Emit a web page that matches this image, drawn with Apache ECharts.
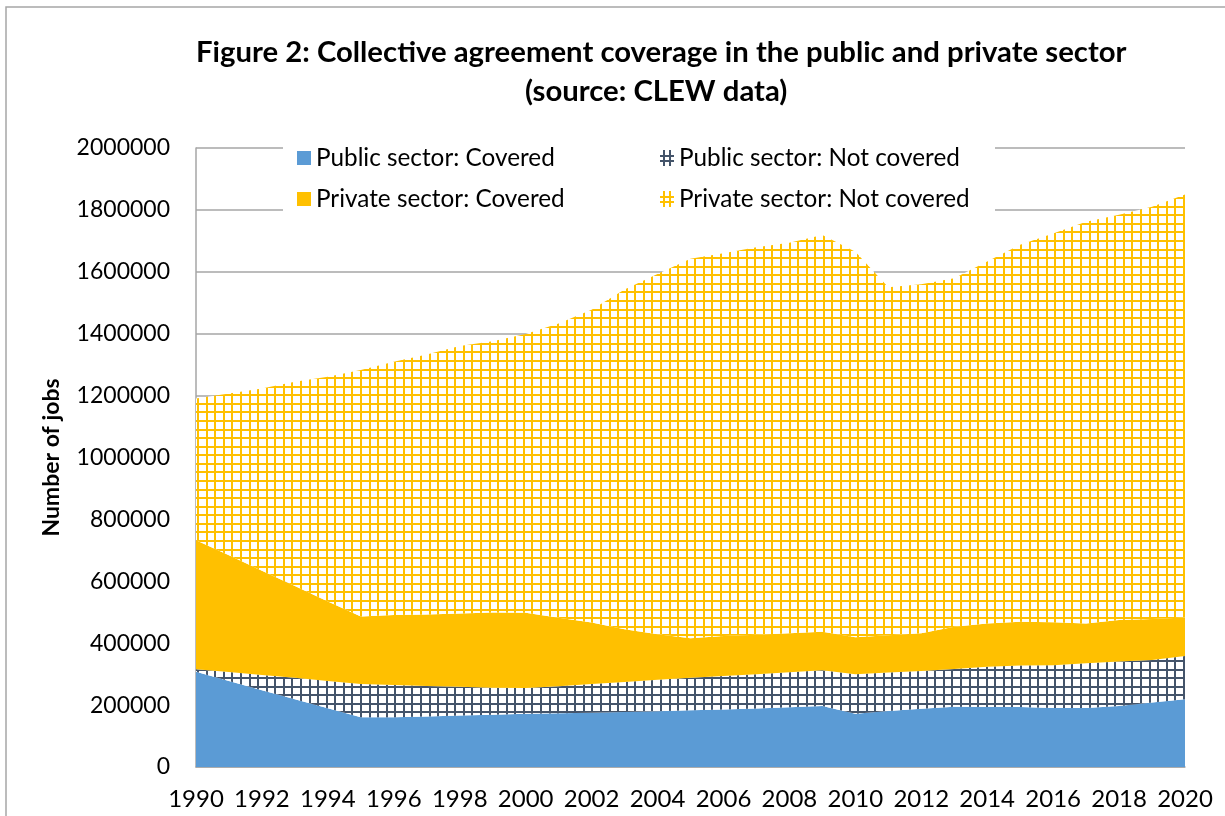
<!DOCTYPE html>
<html>
<head>
<meta charset="utf-8">
<script src="https://cdn.jsdelivr.net/npm/echarts@6/dist/echarts.min.js"></script>
<style>
html,body{margin:0;padding:0;background:#fff;}
#chart{width:1225px;height:816px;}
</style>
</head>
<body>
<div id="chart"></div>
<script>
const years = [];
for (let y = 1990; y <= 2020; y++) years.push(String(y));

const publicCovered = [308000,278000,248000,219000,190000,161000,161000,163000,166000,169000,172000,174000,175000,178000,180000,183000,186000,189000,193000,197000,172000,181000,188000,195000,194000,194000,191000,191000,197000,208000,219000];
const publicNotCovered = [8000,29000,49000,69000,88000,107000,104000,99000,93000,87000,83000,87000,93000,97000,102000,105000,108000,111000,113000,116000,128000,124000,122000,122000,130000,134000,138000,144000,144000,138000,140000];
const privateCovered = [417000,377000,337000,297000,257000,218000,226000,231000,237000,243000,243000,221000,199000,170000,147000,128000,129000,127000,126000,124000,119000,121000,122000,136000,140000,141000,139000,129000,134000,132000,124000];
const privateNotCovered = [458000,523000,589000,660000,726000,797000,818000,840000,864000,877000,901000,951000,1010000,1098000,1164000,1226000,1237000,1252000,1262000,1282000,1246000,1124000,1128000,1126000,1169000,1218000,1256000,1298000,1309000,1332000,1367000];

const seriesNames = ['Public sector: Covered','Public sector: Not covered','Private sector: Covered','Private sector: Not covered'];
const titleLines = ['Figure 2: Collective agreement coverage in the public and private sector', '(source: CLEW data)'];
const yTicks = [0,200000,400000,600000,800000,1000000,1200000,1400000,1600000,1800000,2000000];

const BLUE = '#5B9BD5', NAVY = '#44546A', GOLD = '#FFC000';

function gridPattern(color) {
  const c = document.createElement('canvas');
  c.width = 60; c.height = 60;
  const g = c.getContext('2d');
  g.fillStyle = '#fff';
  g.fillRect(0,0,60,60);
  g.fillStyle = color;
  for (let i = 0; i < 7; i++) {
    const p = Math.round(i * 60 / 7);
    g.fillRect(p, 0, 2, 60);
    g.fillRect(0, p, 60, 2);
  }
  return {image: c, repeat: 'repeat'};
}
function hashIcon(color) {
  const c = document.createElement('canvas');
  c.width = 14; c.height = 16;
  const g = c.getContext('2d');
  g.fillStyle = color;
  g.fillRect(3,0,2,16); g.fillRect(9,0,2,16);
  g.fillRect(0,5,14,2); g.fillRect(0,10,14,2);
  return 'image://' + c.toDataURL();
}

const navyPat = gridPattern(NAVY);
const goldPat = gridPattern(GOLD);
const fills = [BLUE, navyPat, GOLD, goldPat];
const dataArr = [publicCovered, publicNotCovered, privateCovered, privateNotCovered];

const FONT = 'Lato';
const chart = echarts.init(document.getElementById('chart'), null, {renderer:'canvas'});

const legendText = {fontFamily: FONT, fontSize: 24.3, color: '#000', lineHeight: 24};
const titleStyle = {fontFamily: FONT, fontWeight: 'bold', fontSize: 29.3, color: '#000'};
chart.setOption({
  animation: false,
  backgroundColor: '#fff',
  title: [
    {text: titleLines[0], left: 191, top: 33, textStyle: titleStyle},
    {text: titleLines[1], left: 520, top: 72, textStyle: titleStyle}
  ],
  grid: {left: 196, right: 40, top: 148, bottom: 49},
  graphic: [
    {type: 'rect', z: 3, shape: {x: 283, y: 138, width: 712, height: 82}, style: {fill: '#fff'}},
    {type: 'rect', z: 10, shape: {x: 6, y: 7, width: 1400, height: 1000}, style: {fill: 'none', stroke: '#a6a6a6', lineWidth: 1.5}}
  ],
  legend: [
    {
      orient: 'vertical', left: 292, top: 141, itemGap: 17, z: 5,
      itemWidth: 14, itemHeight: 14, textStyle: legendText,
      data: [
        {name: seriesNames[0], icon: 'rect', itemStyle: {color: BLUE}},
        {name: seriesNames[2], icon: 'rect', itemStyle: {color: GOLD}}
      ]
    },
    {
      orient: 'vertical', left: 655, top: 141, itemGap: 17, z: 5,
      itemWidth: 14, itemHeight: 16, textStyle: legendText,
      data: [
        {name: seriesNames[1], icon: hashIcon(NAVY)},
        {name: seriesNames[3], icon: hashIcon(GOLD)}
      ]
    }
  ],
  xAxis: {
    type: 'category', data: years, boundaryGap: false,
    axisLine: {lineStyle: {color: '#a6a6a6', width: 1.5}},
    axisTick: {show: false},
    axisLabel: {interval: 1, margin: 20, fontFamily: FONT, fontSize: 24, color: '#000'}
  },
  yAxis: {
    type: 'value', min: 0, max: 2000000, interval: 200000,
    name: 'Number of jobs', nameLocation: 'middle', nameGap: 133,
    nameTextStyle: {fontFamily: FONT, fontWeight: 'bold', fontSize: 23, color: '#000'},
    axisLine: {show: true, lineStyle: {color: '#a6a6a6', width: 1.5}},
    axisTick: {show: false},
    splitLine: {lineStyle: {color: '#a6a6a6', width: 1.5}},
    axisLabel: {margin: 26, fontFamily: FONT, fontSize: 23, color: '#000',
      formatter: v => yTicks.indexOf(v) >= 0 ? String(v) : ''}
  },
  series: seriesNames.map((n, i) => ({
    name: n, type: 'line', stack: 'total', data: dataArr[i],
    symbol: 'none', smooth: false,
    lineStyle: {width: 0},
    itemStyle: {color: i === 0 ? BLUE : (i === 1 ? NAVY : GOLD)},
    areaStyle: {color: fills[i], opacity: 1},
    emphasis: {disabled: true}
  }))
});
</script>
</body>
</html>
